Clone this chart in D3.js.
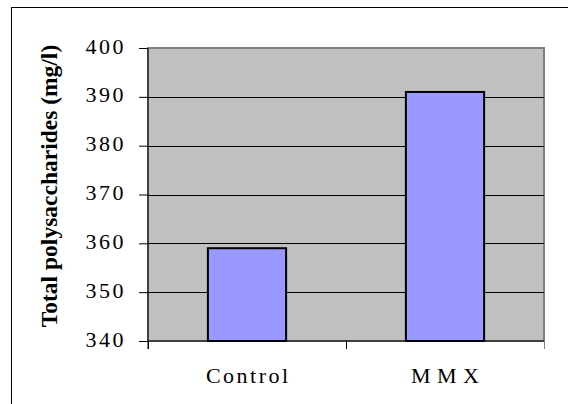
<!DOCTYPE html>
<html><head><meta charset="utf-8">
<script src="https://cdn.jsdelivr.net/npm/d3@7"></script>
<style>html,body{margin:0;padding:0;background:#fff;overflow:hidden;}svg{display:block;}</style>
</head><body>
<svg id="chart" width="568" height="404"></svg>
<script>
const categories = ["Control", "MMX"];
const categoryLabels = ["Control", "M M X"];
const labelSpacing = [2.5, 0.5];
const values = [359, 391];
const yTicks = [340, 350, 360, 370, 380, 390, 400];
const yTitle = "Total polysaccharides (mg/l)";

const svg = d3.select("#chart");
const plot = {left: 148, top: 48, right: 544, bottom: 341};
const serif = "'Liberation Serif', 'Times New Roman', serif";

// outer chart border (left and top visible)
svg.append("rect").attr("x", 11.5).attr("y", 7.5).attr("width", 600).attr("height", 500)
  .attr("fill", "none").attr("stroke", "#000").attr("stroke-width", 1);

const x = d3.scaleBand().domain(categories).range([plot.left, plot.right]).paddingInner(0).paddingOuter(0);
const y = d3.scaleLinear().domain([340, 400]).range([plot.bottom, plot.top]);

svg.append("rect").attr("x", plot.left).attr("y", plot.top)
  .attr("width", plot.right - plot.left).attr("height", plot.bottom - plot.top)
  .attr("fill", "#C0C0C0").attr("stroke", "#808080").attr("stroke-width", 2);

// gridlines
svg.append("g").selectAll("line").data(yTicks.filter(d => d > 340 && d < 400)).join("line")
  .attr("x1", plot.left).attr("x2", plot.right)
  .attr("y1", d => Math.round(y(d)) + 0.5).attr("y2", d => Math.round(y(d)) + 0.5)
  .attr("stroke", "#000").attr("stroke-width", 1);

// bars
const bw = x.bandwidth() * 0.395;
svg.append("g").selectAll("rect").data(values).join("rect")
  .attr("x", (d, i) => x(categories[i]) + (x.bandwidth() - bw) / 2)
  .attr("y", d => y(d))
  .attr("width", bw)
  .attr("height", d => y(340) - y(d))
  .attr("fill", "#9999FF").attr("stroke", "#000").attr("stroke-width", 2);

// y axis
const yAxis = d3.axisLeft(y).tickValues(yTicks).tickSize(9).tickPadding(13).tickFormat(d3.format("d"));
const gy = svg.append("g").attr("transform", `translate(${plot.left},0)`).call(yAxis);
gy.select(".domain").attr("stroke", "#000").attr("d", `M0,${plot.top}V${plot.bottom + 8}`);
gy.selectAll(".tick line").attr("stroke", "#000");
gy.selectAll(".tick text").attr("font-family", serif)
  .attr("font-size", 22).attr("fill", "#000").attr("letter-spacing", "2.5px").attr("dy", "0.23em");

// x axis
const xAxis = d3.axisBottom(x).tickSize(0).tickPadding(0).tickFormat((d, i) => categoryLabels[i]);
const gx = svg.append("g").attr("transform", `translate(0,${plot.bottom})`).call(xAxis);
gx.select(".domain").attr("stroke", "#000").attr("d", `M${plot.left},0H${plot.right}`);
gx.selectAll(".tick text").attr("font-family", serif)
  .attr("font-size", 22).attr("fill", "#000").attr("y", 42).attr("dy", 0)
  .attr("letter-spacing", (d, i) => labelSpacing[i] + "px")
  .attr("dx", (d, i) => (labelSpacing[i] / 2) + "px");
// category boundary ticks
svg.append("g").selectAll("line").data(categories.concat([null])).join("line")
  .attr("x1", (d, i) => plot.left + i * x.bandwidth() + 0.5)
  .attr("x2", (d, i) => plot.left + i * x.bandwidth() + 0.5)
  .attr("y1", plot.bottom).attr("y2", plot.bottom + 8)
  .attr("stroke", (d, i) => i === 2 ? "#808080" : "#000");

// y title
svg.append("text").attr("transform", "translate(57,186) rotate(-90)")
  .attr("text-anchor", "middle")
  .attr("font-family", serif)
  .attr("font-weight", "bold").attr("font-size", 23.5)
  .text(yTitle);
</script>
</body></html>
